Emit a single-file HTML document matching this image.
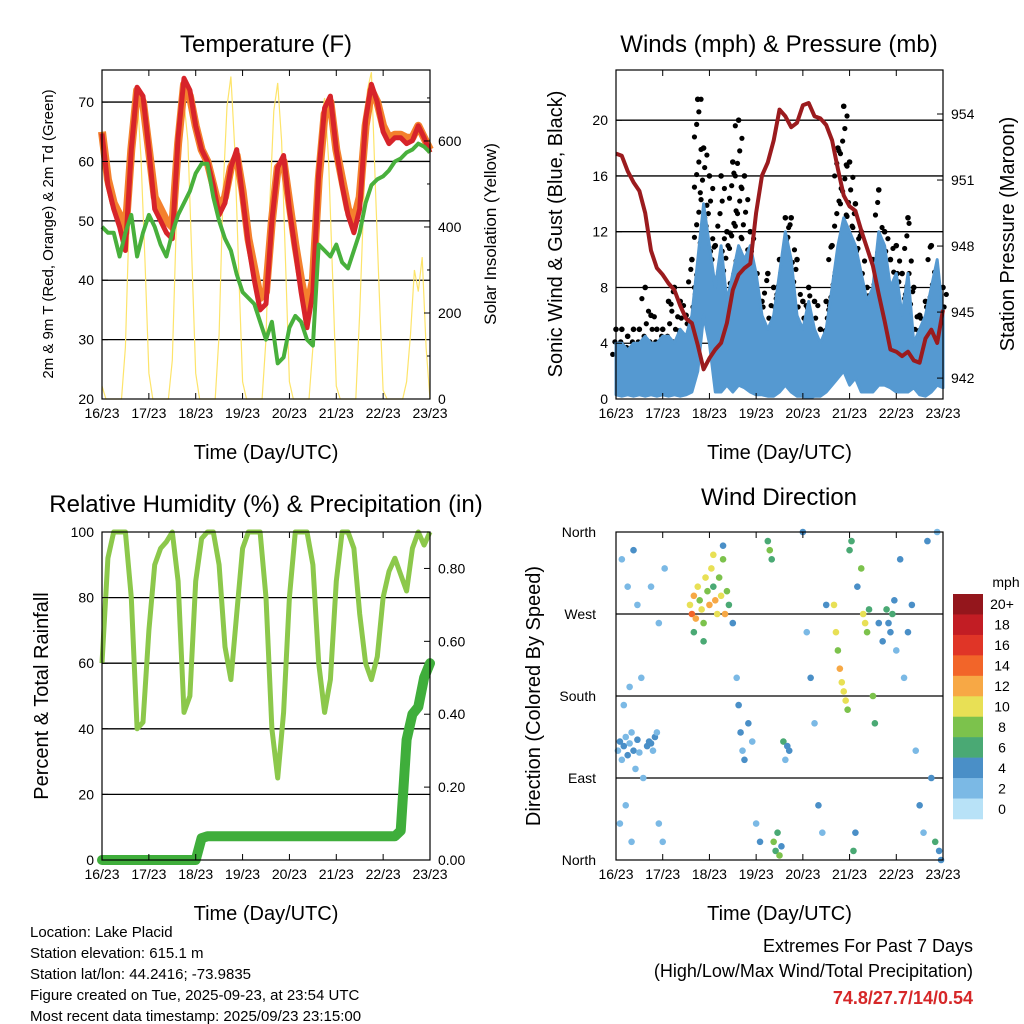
<!DOCTYPE html>
<html><head><meta charset="utf-8"><style>
body{margin:0;background:#fff;}
svg{display:block;font-family:"Liberation Sans",sans-serif;}
</style></head><body>
<svg id="c" width="1024" height="1024" viewBox="0 0 1024 1024"></svg>
<script>
// ---------- data (3-hour steps, hour 0 = 16/23 ~23 UTC) ----------
const dayLabels=["16/23","17/23","18/23","19/23","20/23","21/23","22/23","23/23"];
const temp2m=[64.7,56,52,49,45,62,72.5,71,62,52, 50,48,47,64,74,72,66,62,60,56, 51,53,59,62,54,46,40,35,36,50, 59,61,52,45,38,32,38,58,69,71, 62,56,51,48,52,67,73,70,65,63, 64,64,63,63.5,66,64,61.5];
const temp9m=[65,57,53,51,48,62,72,70,62,54, 52,50,49,63,73,71,66,62,60,56, 52,54,59,61,55,47,42,37,38,50, 59,60,53,46,40,35,40,57,68,70, 62,57,52,50,54,66,72,70,66,64, 64.5,64.5,64,64,66,64,62];
const dewpt=[49,48,48,44,48,51,44,48,51,49, 46,44,48,51,53,55,58,59.6,59.6,54, 50,47,45,41,38,37,36,33,30,33, 26,27,32,34,33,30,29,46,45,44, 46,43,42,45,48,53,56,57,57.5,58.5, 60,60.5,61.5,62,63,62.5,61.5];
const solar=[30,0,0,0,0,0,120,430,650,710,560,320, 60,0,0,0,0,0,90,400,620,690,600,330, 60,0,0,0,0,0,150,480,680,750,580,300, 40,0,0,0,0,0,140,460,670,735,600,320, 40,0,0,0,0,0,120,500,640,700,560,300, 30,0,0,0,0,0,200,450,720,760,500,250, 20,0,0,0,0,0,40,150,300,250,330,120, 0];
const windLo=[0.3,0.2,0.3,0.2,0.3,0.2,0.3,0.2,0.3,0.2, 0.3,0.2,0.3,0.5,2,6,4,0.5,0.5,1, 0.5,1,0.8,0.5,0.3,0.3,0.2,0.2,0.5,1, 0.5,0.2,0.2,0,0.2,0.2,0.5,1,1.5,2, 1,1.5,0.5,0.5,0.5,1,1,0.8,0.5,0.5, 0.5,0.8,0.3,0.2,0.5,1,0.8];
const windHi=[4,4,3.5,4,4,4.5,4,4,4.5,4.5, 4,5,4.5,6,10,14,11,8,11,7, 9,11,10,11,9,6,5,6,9,12, 10,6,5,7,5,4,5,8,11,13, 12,11,9,7,8,12,11,8,9,6, 9,4,5,6,8,10,6];
const gust=[5,5,4.5,5,5,8,6,5,5,7, 8,7,6,10,21.5,18,16,11,16,12, 17,20,16,12,9,7,9,8,10,13, 13,10,7,8,7,5,7,11,18,21, 17,14,12,8,10,15,12,10,11,9, 13,8,6,7,11,9,8];
const pressure=[952.2,952.1,951.4,950.9,950.5,949.5,947.8,947.0,946.7,946.3, 946.0,945.3,944.7,944.5,943.5,942.4,942.9,943.3,943.6,944.5, 946.0,946.7,947.0,947.2,949.5,951.2,951.8,952.8,954.2,953.9, 953.4,953.6,954.4,954.5,953.9,953.8,953.5,952.8,951.5,950.3, 949.8,949.6,948.7,947.9,947.1,945.8,944.6,943.3,943.2,943.0, 943.2,942.8,942.7,943.8,944.2,943.6,945.1];
const rh=[60,92,100,100,100,80,40,42,70,90, 95,97,100,85,45,50,85,98,100,100, 90,65,55,75,95,100,100,100,80,40, 25,45,80,100,100,100,90,60,45,55, 85,100,100,95,75,60,55,62,80,88, 92,87,82,95,100,96,100];
const precip=[0,0,0,0,0,0,0,0,0,0, 0,0,0,0,0,0,0,0.06,0.065,0.065, 0.065,0.065,0.065,0.065,0.065,0.065,0.065,0.065,0.065,0.065, 0.065,0.065,0.065,0.065,0.065,0.065,0.065,0.065,0.065,0.065, 0.065,0.065,0.065,0.065,0.065,0.065,0.065,0.065,0.065,0.065, 0.065,0.08,0.33,0.40,0.42,0.50,0.54];
const wdHour=[1,2,3,4,5,6,7,8,9,10,11,12,2,5,8,3,6,9,11,13,14,4,7, 16,17,18,19,20,21,22,24,18,22,25, 38,39,40,41,42,43,44,45,46,47,48,49,50,51,52,53,54,55,56,57,58,40,45,50,55, 60,62,63,64,65,66,68,70,72,74, 78,79,80,81,82,83,84,85,86,88,89,87, 96,98,100,102,104,106,108, 112,113,114,115,116,117,118,119,120,121,122,123,124, 126,127,128,129,130,132,133,135,137,139,140,141,142,143,144, 146,148,150,152,154,156,158,160,162,164,166,167,165];
const wdDir=[120,130,110,125,135,115,128,140,120,100,132,118,40,60,20,330,300,340,280,200,90,170,190, 125,130,128,120,135,140,40,20,300,260,320, 280,270,290,265,300,285,275,260,310,295,280,320,300,285,270,310,290,330,270,295,280,250,240,335,345, 260,200,170,140,120,110,150,130,40,20, 350,340,330,20,10,30,5,15,130,125,120,110, 360,250,200,150,60,30,280, 280,250,230,210,195,185,175,165,340,350,10,30,300, 320,270,260,250,275,180,150,260,240,275,260,250,270,285,230, 330,200,250,280,120,60,30,350,90,20,10,0,360];
const wdSpeed=[2,3,1,4,2,3,2,1,3,2,4,2,1,1,2,1,2,3,2,1,2,1,2, 3,4,3,2,3,2,1,1,2,1,2, 10,14,11,12,9,8,10,7,9,8,11,10,6,12,9,8,10,7,11,8,5,6,5,9,4, 3,2,4,3,2,4,3,2,2,3, 6,7,5,7,6,5,8,4,6,4,3,2, 3,2,3,2,3,2,4, 9,10,8,11,10,9,10,8,6,5,6,4,3, 7,9,10,8,6,7,5,4,3,5,4,3,6,4,2, 3,2,4,3,2,3,2,4,3,5,4,3,2];
const cbLabels=["20+","18","16","14","12","10","8","6","4","2","0"];
const cbColors=["#94161c","#c21d24","#e03527","#f26529","#f7a845","#e8e055","#7cc24c","#4aa974","#4a8fc7","#7bb9e5","#b8e2f7"];

// ---------- helpers ----------
const NS="http://www.w3.org/2000/svg";
const svg=document.getElementById('c');
function mk(tag,attrs,parent){const e=document.createElementNS(NS,tag);for(const k in attrs)e.setAttribute(k,attrs[k]);(parent||svg).appendChild(e);return e;}
function txt(s,x,y,size,anchor,parent,extra){const t=mk('text',Object.assign({x:x,y:y,'font-size':size,'text-anchor':anchor||'middle',fill:'#000'},extra||{}),parent);t.textContent=s;return t;}
function xs(L,R){return h=>L+(h/168)*(R-L);}
function ys(T,B,v0,v1){return v=>B-(v-v0)/(v1-v0)*(B-T);}
function pathFrom(arr,step,fx,fy){return arr.map((v,i)=>(i?'L':'M')+fx(i*step).toFixed(1)+','+fy(v).toFixed(1)).join(' ');}
function frame(name){
  const g=mk('g',{});
  
  
  return g;
}
function xAxis(g,L,R,B,T){
  const fx=xs(L,R);
  dayLabels.forEach((d,i)=>{const x=fx(i*24);
    mk('line',{x1:x,y1:B,x2:x,y2:B-6,stroke:'#000','stroke-width':1},g);
    mk('line',{x1:x,y1:T,x2:x,y2:T+6,stroke:'#000','stroke-width':1},g);
    const t=txt(d,x,B+19,14,'middle',g);
    
    
  });
  const at=txt('Time (Day/UTC)',(L+R)/2,B+60,20,'middle',g);
  
  
}
function border(g,L,T,R,B){mk('rect',{x:L,y:T,width:R-L,height:B-T,fill:'none',stroke:'#000','stroke-width':1.2},g);}

// ================= Panel 1: Temperature =================
(function(){
  const L=102,T=70,R=430,B=399;
  const g=frame('temperature-panel');
  const fx=xs(L,R), fy=ys(T,B,20,75.4), fs=ys(T,B,0,765);
  [30,40,50,60,70].forEach(v=>mk('line',{x1:L,y1:fy(v),x2:R,y2:fy(v),stroke:'#000','stroke-width':1.3},g));
  const sp=mk('path',{d:pathFrom(solar,2,fx,fs),fill:'none',stroke:'#fde46a','stroke-width':1.2},g);
  
  
  const op=mk('path',{d:pathFrom(temp9m,3,fx,fy),fill:'none',stroke:'#f4812d','stroke-width':8,'stroke-linejoin':'round'},g);
  
  
  const rp=mk('path',{d:pathFrom(temp2m,3,fx,fy),fill:'none',stroke:'#d7242a','stroke-width':5,'stroke-linejoin':'round'},g);
  
  
  const gp=mk('path',{d:pathFrom(dewpt,3,fx,fy),fill:'none',stroke:'#48b03c','stroke-width':4,'stroke-linejoin':'round'},g);
  
  
  border(g,L,T,R,B);
  [20,30,40,50,60,70].forEach(v=>{mk('line',{x1:L,y1:fy(v),x2:L+6,y2:fy(v),stroke:'#000'},g);
    const t=txt(String(v),L-8,fy(v)+5,14,'end',g);
    
    });
  [0,200,400,600].forEach(v=>{mk('line',{x1:R,y1:fs(v),x2:R-6,y2:fs(v),stroke:'#000'},g);
    const t=txt(String(v),R+8,fs(v)+5,14,'start',g);
    
    });
  for(let v=100;v<=700;v+=200){mk('line',{x1:R,y1:fs(v),x2:R-3,y2:fs(v),stroke:'#000'},g);}
  xAxis(g,L,R,B,T);
  const ti=txt('Temperature (F)',266,52,24,'middle',g);
  
  
  const yl=txt('2m & 9m T (Red, Orange) & 2m Td (Green)',0,0,15,'middle',g,{transform:'translate(53,234) rotate(-90)'});
  
  
  const y2=txt('Solar Insolation (Yellow)',0,0,17,'middle',g,{transform:'translate(496,234) rotate(-90)'});
  
  
})();

// ================= Panel 2: Winds & Pressure =================
(function(){
  const L=616,T=70,R=943,B=399;
  const g=frame('winds-panel');
  const fx=xs(L,R), fy=ys(T,B,0,23.6), fp=ys(T,B,941.05,956.0);
  [4,8,12,16,20].forEach(v=>mk('line',{x1:L,y1:fy(v),x2:R,y2:fy(v),stroke:'#000','stroke-width':1.3},g));
  // gust dots
  gust.forEach((gv,i)=>{
    const x=fx(i*3);
    let n=0;
    for(let v=windHi[i]*0.8; v<=gv; v+=0.9){
      const off=((n%4)-1.5)*2.2;
      n++;
      const d=mk('circle',{cx:x+off,cy:fy(v),r:2.6,fill:'#000'},g);
      
      
    }
    const d=mk('circle',{cx:x,cy:fy(gv),r:2.8,fill:'#000'},g);
    
    
  });
  // wind band
  let dd='';
  windHi.forEach((v,i)=>{dd+=(i?'L':'M')+fx(i*3).toFixed(1)+','+fy(v).toFixed(1);});
  for(let i=windLo.length-1;i>=0;i--){dd+='L'+fx(i*3).toFixed(1)+','+fy(windLo[i]).toFixed(1);}
  const band=mk('path',{d:dd+'Z',fill:'#5599d1',stroke:'#5599d1','stroke-width':3,'stroke-linejoin':'round'},g);
  
  
  const pp=mk('path',{d:pathFrom(pressure,3,fx,fp),fill:'none',stroke:'#9b1b1e','stroke-width':4,'stroke-linejoin':'round'},g);
  
  
  mk('rect',{x:L,y:B,width:R-L,height:8,fill:'#fff'},g);
  border(g,L,T,R,B);
  [0,4,8,12,16,20].forEach(v=>{mk('line',{x1:L,y1:fy(v),x2:L+6,y2:fy(v),stroke:'#000'},g);
    const t=txt(String(v),L-8,fy(v)+5,14,'end',g);
    
    });
  [942,945,948,951,954].forEach(v=>{mk('line',{x1:R,y1:fp(v),x2:R-6,y2:fp(v),stroke:'#000'},g);
    const t=txt(String(v),R+8,fp(v)+5,14,'start',g);
    
    });
  xAxis(g,L,R,B,T);
  const ti=txt('Winds (mph) & Pressure (mb)',779,52,24,'middle',g);
  
  
  const yl=txt('Sonic Wind & Gust (Blue, Black)',0,0,20,'middle',g,{transform:'translate(562,234) rotate(-90)'});
  
  
  const y2=txt('Station Pressure (Maroon)',0,0,20,'middle',g,{transform:'translate(1014,234) rotate(-90)'});
  
  
})();

// ================= Panel 3: RH & Precip =================
(function(){
  const L=102,T=532,R=430,B=860;
  const g=frame('humidity-panel');
  const fx=xs(L,R), fy=ys(T,B,0,100), fr=ys(T,B,0,0.9);
  [20,40,60,80].forEach(v=>mk('line',{x1:L,y1:fy(v),x2:R,y2:fy(v),stroke:'#000','stroke-width':1.3},g));
  const rp=mk('path',{d:pathFrom(rh,3,fx,fy),fill:'none',stroke:'#8cc84b','stroke-width':5,'stroke-linejoin':'round'},g);
  
  
  const pp=mk('path',{d:pathFrom(precip,3,fx,fr),fill:'none',stroke:'#3fae3b','stroke-width':10,'stroke-linejoin':'round','stroke-linecap':'round'},g);
  
  
  border(g,L,T,R,B);
  [0,20,40,60,80,100].forEach(v=>{mk('line',{x1:L,y1:fy(v),x2:L+6,y2:fy(v),stroke:'#000'},g);
    const t=txt(String(v),L-8,fy(v)+5,14,'end',g);
    
    });
  [0,0.2,0.4,0.6,0.8].forEach(v=>{mk('line',{x1:R,y1:fr(v),x2:R-6,y2:fr(v),stroke:'#000'},g);
    const t=txt(v.toFixed(2),R+8,fr(v)+5,14,'start',g);
    
    });
  xAxis(g,L,R,B,T);
  const ti=txt('Relative Humidity (%) & Precipitation (in)',266,512,24,'middle',g);
  
  
  const yl=txt('Percent & Total Rainfall',0,0,20,'middle',g,{transform:'translate(48,696) rotate(-90)'});
  
  
})();

// ================= Panel 4: Wind Direction =================
(function(){
  const L=616,T=532,R=943,B=860;
  const g=frame('wind-direction-panel');
  const fx=xs(L,R), fy=ys(T,B,0,360);
  [90,180,270].forEach(v=>mk('line',{x1:L,y1:fy(v),x2:R,y2:fy(v),stroke:'#000','stroke-width':1.3},g));
  const colorOf=s=>{const idx=Math.min(10,Math.floor((s+1)/2));return cbColors[10-idx];};
  wdHour.forEach((h,i)=>{
    const d=mk('circle',{cx:fx(h),cy:fy(wdDir[i]),r:3.3,fill:colorOf(wdSpeed[i])},g);
    
    
  });
  border(g,L,T,R,B);
  [['North',0],['East',90],['South',180],['West',270],['North',360]].forEach(([n,v])=>{
    mk('line',{x1:L,y1:fy(v),x2:L+6,y2:fy(v),stroke:'#000'},g);
    const t=txt(n,L-20,fy(v)+5,14,'end',g);
    
    });
  xAxis(g,L,R,B,T);
  const ti=txt('Wind Direction',779,505,24,'middle',g);
  
  
  const yl=txt('Direction (Colored By Speed)',0,0,20,'middle',g,{transform:'translate(540,696) rotate(-90)'});
  
  
  const cb=mk('g',{},g);
  
  
  const bh=(819-594)/11;
  cbColors.forEach((c,i)=>{
    const r=mk('rect',{x:953,y:594+i*bh,width:30,height:bh+0.3,fill:c},cb);
    
    
    const t=txt(cbLabels[i],1002,594+i*bh+bh/2+5,14,'middle',cb);
    
    
  });
  const u=txt('mph',1006,587,14,'middle',cb);
  
  
})();

// ================= Footer =================
(function(){
  const g=mk('g',{});
  
  
  ["Location: Lake Placid","Station elevation: 615.1 m","Station lat/lon: 44.2416; -73.9835","Figure created on Tue, 2025-09-23, at 23:54 UTC","Most recent data timestamp: 2025/09/23 23:15:00"].forEach((s,i)=>{
    const t=txt(s,30,937+i*21,15,'start',g);
    
    
  });
  const a=txt('Extremes For Past 7 Days',973,952,18,'end',g);
  
  
  const b=txt('(High/Low/Max Wind/Total Precipitation)',973,977,18,'end',g);
  
  
  const c=txt('74.8/27.7/14/0.54',973,1004,18,'end',g,{fill:'#d62728','font-weight':'bold'});
  
  
})();
</script>
</body></html>
